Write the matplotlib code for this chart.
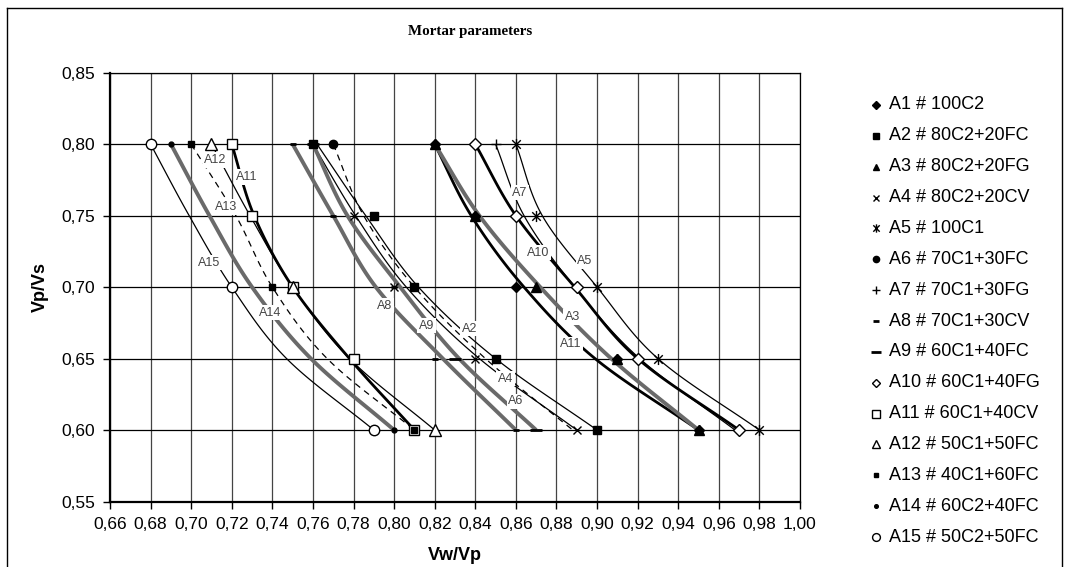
import numpy as np
import matplotlib
matplotlib.use("Agg")
import matplotlib.pyplot as plt
from matplotlib.path import Path
from matplotlib.lines import Line2D
from matplotlib.ticker import FuncFormatter, MultipleLocator

# ---------------------------------------------------------------- data
series_names = [
    "A1 # 100C2", "A2 # 80C2+20FC", "A3 # 80C2+20FG", "A4 # 80C2+20CV",
    "A5 # 100C1", "A6 # 70C1+30FC", "A7 # 70C1+30FG", "A8 # 70C1+30CV",
    "A9 # 60C1+40FC", "A10 # 60C1+40FG", "A11 # 60C1+40CV",
    "A12 # 50C1+50FC", "A13 # 40C1+60FC", "A14 # 60C2+40FC",
    "A15 # 50C2+50FC",
]

# measured points (Vw/Vp, Vp/Vs) for each mortar
point_vw = [
    [0.82, 0.84, 0.86, 0.91, 0.95],
    [0.76, 0.79, 0.81, 0.85, 0.90],
    [0.82, 0.84, 0.87, 0.91, 0.95],
    [0.76, 0.78, 0.80, 0.84, 0.89],
    [0.86, 0.87, 0.90, 0.93, 0.98],
    [0.77],
    [0.85],
    [0.75, 0.77, 0.80, 0.82, 0.86],
    [0.76, 0.83, 0.87],
    [0.84, 0.86, 0.89, 0.92, 0.97],
    [0.72, 0.73, 0.75, 0.78, 0.81],
    [0.71, 0.75, 0.82],
    [0.70, 0.74, 0.81],
    [0.69, 0.80],
    [0.68, 0.72, 0.79],
]
point_vp = [
    [0.80, 0.75, 0.70, 0.65, 0.60],
    [0.80, 0.75, 0.70, 0.65, 0.60],
    [0.80, 0.75, 0.70, 0.65, 0.60],
    [0.80, 0.75, 0.70, 0.65, 0.60],
    [0.80, 0.75, 0.70, 0.65, 0.60],
    [0.80],
    [0.80],
    [0.80, 0.75, 0.70, 0.65, 0.60],
    [0.80, 0.65, 0.60],
    [0.80, 0.75, 0.70, 0.65, 0.60],
    [0.80, 0.75, 0.70, 0.65, 0.60],
    [0.80, 0.70, 0.60],
    [0.80, 0.70, 0.60],
    [0.80, 0.60],
    [0.80, 0.70, 0.60],
]

# fitted curves: Vw/Vp reached at each Vp/Vs level
curve_levels = [0.80, 0.75, 0.70, 0.65, 0.60]
curve_vw = [
    [0.820, 0.838, 0.864, 0.899, 0.950],   # A1
    [0.762, 0.786, 0.812, 0.850, 0.900],   # A2
    [0.820, 0.842, 0.872, 0.907, 0.950],   # A3
    [0.760, 0.781, 0.806, 0.842, 0.890],   # A4
    [0.860, 0.873, 0.900, 0.930, 0.980],   # A5
    [0.770, 0.785, 0.810, 0.845, 0.888],   # A6
    [0.850, 0.864, 0.889, 0.921, 0.968],   # A7
    [0.750, 0.770, 0.791, 0.824, 0.860],   # A8
    [0.760, 0.777, 0.803, 0.832, 0.870],   # A9
    [0.840, 0.860, 0.889, 0.920, 0.970],   # A10
    [0.720, 0.731, 0.750, 0.778, 0.810],   # A11
    [0.710, 0.729, 0.750, 0.778, 0.820],   # A12
    [0.700, 0.722, 0.740, 0.767, 0.810],   # A13
    [0.690, 0.709, 0.730, 0.759, 0.800],   # A14
    [0.680, 0.699, 0.720, 0.747, 0.790],   # A15
]
curve_tags = ["A11", "A2", "A3", "A4", "A5", "A6", "A7", "A8", "A9",
              "A10", "A11", "A12", "A13", "A14", "A15"]

# ---------------------------------------------------------------- styles
tag_pos = [(0.887, 0.660), (0.837, 0.671), (0.888, 0.679), (0.855, 0.636),
           (0.894, 0.718), (0.860, 0.620), (0.862, 0.766), (0.7955, 0.687),
           (0.816, 0.673), (0.871, 0.724), (0.7275, 0.777), (0.712, 0.789),
           (0.717, 0.756), (0.739, 0.682), (0.709, 0.717)]

THIN = dict(color="black", lw=0.9)
THICK = dict(color="black", lw=2.0)
GRAY = dict(color="#6a6a6a", lw=2.8)
DASH = dict(color="black", lw=0.9, dashes=(5, 4))
curve_style = [THICK, THIN, GRAY, THIN, THIN, DASH, THIN, GRAY, GRAY,
               THICK, THICK, THIN, DASH, GRAY, THIN]

asterisk = Path([(-1, -1), (1, 1), (-1, 1), (1, -1), (0, -1.3), (0, 1.3)],
                [Path.MOVETO, Path.LINETO, Path.MOVETO, Path.LINETO,
                 Path.MOVETO, Path.LINETO])

marker_style = [
    dict(marker="D", ms=5, mfc="black", mec="black"),
    dict(marker="s", ms=6, mfc="black", mec="black"),
    dict(marker="^", ms=6.5, mfc="black", mec="black"),
    dict(marker="x", ms=6, mec="black", mew=1.0),
    dict(marker=asterisk, ms=8, mec="black", mew=1.0),
    dict(marker="o", ms=6, mfc="black", mec="black"),
    dict(marker="+", ms=7, mec="black", mew=1.0),
    dict(marker="_", ms=5, mec="black", mew=2.0),
    dict(marker="_", ms=9, mec="black", mew=2.0),
    dict(marker="D", ms=6, mfc="white", mec="black", mew=1.0),
    dict(marker="s", ms=7.5, mfc="white", mec="black", mew=1.0),
    dict(marker="^", ms=8, mfc="white", mec="black", mew=1.0),
    dict(marker="s", ms=4, mfc="black", mec="black"),
    dict(marker="o", ms=3.5, mfc="black", mec="black"),
    dict(marker="o", ms=7.5, mfc="white", mec="black", mew=1.0),
]


def smooth_line(xs, ys, n=24):
    """Catmull-Rom rendering of a smoothed polyline through its vertices."""
    P = np.column_stack([xs, ys]).astype(float)
    P = np.vstack([2 * P[0] - P[1], P, 2 * P[-1] - P[-2]])
    t = np.linspace(0, 1, n, endpoint=False)[:, None]
    parts = []
    for i in range(1, len(P) - 2):
        p0, p1, p2, p3 = P[i - 1], P[i], P[i + 1], P[i + 2]
        parts.append(0.5 * (2 * p1 + (-p0 + p2) * t
                            + (2 * p0 - 5 * p1 + 4 * p2 - p3) * t ** 2
                            + (-p0 + 3 * p1 - 3 * p2 + p3) * t ** 3))
    parts.append(P[-2][None, :])
    out = np.vstack(parts)
    return out[:, 0], out[:, 1]


# ---------------------------------------------------------------- figure
W, H = 1070, 567
fig = plt.figure(figsize=(W / 100, H / 100), dpi=100)
fig.patch.set_facecolor("white")
SANS = "Liberation Sans"

AX_L, AX_R, AX_T, AX_B = 110, 800, 72.7, 501.5
ax = fig.add_axes([AX_L / W, 1 - AX_B / H, (AX_R - AX_L) / W,
                   (AX_B - AX_T) / H])
ax.set_xlim(0.66, 1.00)
ax.set_ylim(0.55, 0.85)
ax.xaxis.set_major_locator(MultipleLocator(0.02))
ax.yaxis.set_major_locator(MultipleLocator(0.05))
fmt = FuncFormatter(lambda v, _: f"{v:.2f}".replace(".", ","))
ax.xaxis.set_major_formatter(fmt)
ax.yaxis.set_major_formatter(fmt)
ax.tick_params(direction="out", length=5, width=1, labelsize=12.5,
               colors="black")
ax.tick_params(axis="x", pad=6.5)
ax.tick_params(axis="y", pad=5.5)
for lab in ax.get_xticklabels() + ax.get_yticklabels():
    lab.set_fontfamily(SANS)
ax.grid(True, axis="x", color="#444444", lw=0.9)
ax.grid(True, axis="y", color="black", lw=0.9)
ax.set_axisbelow(True)
for side in ("top", "right"):
    ax.spines[side].set_linewidth(0.9)
for side in ("left", "bottom"):
    ax.spines[side].set_linewidth(1.6)

# curves
for xs, st in zip(curve_vw, curve_style):
    sx, sy = smooth_line(xs, curve_levels)
    ax.plot(sx, sy, solid_capstyle="butt", zorder=2, **st)

# curve tags on white boxes
for tag, (tx, ty) in zip(curve_tags, tag_pos):
    ax.text(tx, ty, tag, fontsize=9, family=SANS, color="#444444",
            ha="center", va="center", zorder=3,
            bbox=dict(facecolor="white", edgecolor="none", pad=1.2))

# measured points
for xs, ys, ms in zip(point_vw, point_vp, marker_style):
    ax.plot(xs, ys, ls="none", zorder=4, clip_on=False, **ms)

# axis titles
ax.set_xlabel("Vw/Vp", fontsize=13, fontweight="bold", family=SANS)
ax.set_ylabel("Vp/Vs", fontsize=13, fontweight="bold", family=SANS)
ax.xaxis.set_label_coords((455 - AX_L) / (AX_R - AX_L),
                          (AX_B - 555) / (AX_B - AX_T))
ax.yaxis.set_label_coords((40 - AX_L) / (AX_R - AX_L),
                          (AX_B - 287) / (AX_B - AX_T))
ax.xaxis.label.set_va("center")
ax.yaxis.label.set_va("center")
fig.text(470 / W, 1 - 31 / H, "Mortar parameters", ha="center",
         va="center", fontsize=10.8, fontweight="bold",
         family="Liberation Serif")

# legend column
y0, dy = 105, 30.86
for i, (name, ms) in enumerate(zip(series_names, marker_style)):
    yc = 1 - (y0 + i * dy) / H
    fig.add_artist(Line2D([876 / W], [yc], ls="none", **{
        k: (v * 0.75 if k == "ms" else v) for k, v in ms.items()}))
    fig.text(889 / W, yc, name, fontsize=13, family=SANS, va="center",
             ha="left")

# chart frame
frame = dict(color="black", lw=1.0)
fig.add_artist(Line2D([7 / W, 7 / W], [0, 1 - 8 / H], **frame))
fig.add_artist(Line2D([7 / W, 1062 / W], [1 - 8 / H, 1 - 8 / H], **frame))
fig.add_artist(Line2D([1062 / W, 1062 / W], [0, 1 - 8 / H], **frame))

fig.savefig("out.png", dpi=100, facecolor="white")
